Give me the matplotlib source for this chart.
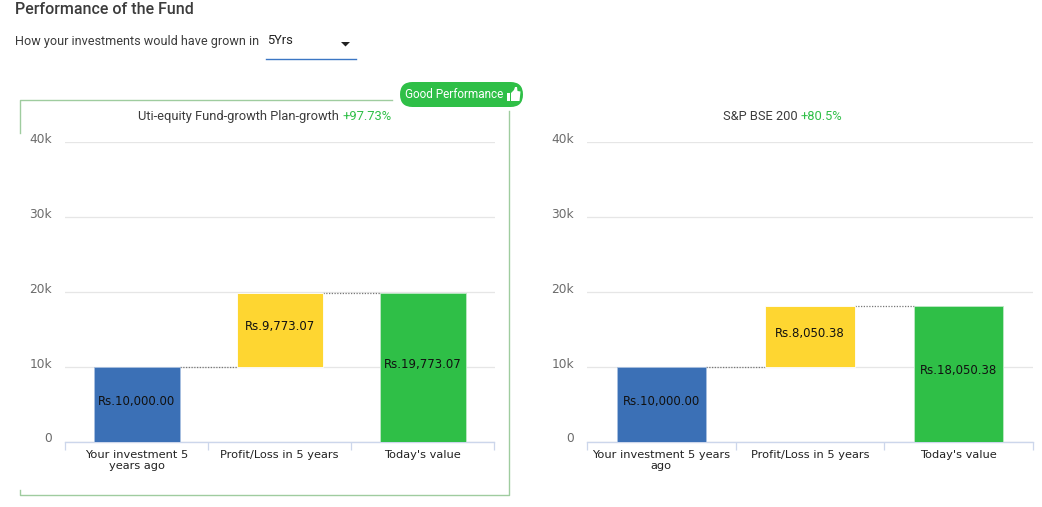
"""
Fund performance waterfall panels, fund vs benchmark
"""

import matplotlib
matplotlib.use('Agg')
import matplotlib.pyplot as plt
from matplotlib.patches import FancyBboxPatch, Polygon, Rectangle
from matplotlib.transforms import ScaledTranslation

W, H = 1042, 507

# Data
fund_categories = ['Your investment 5\nyears ago', 'Profit/Loss in 5 years', "Today's value"]
index_categories = ['Your investment 5 years\nago', 'Profit/Loss in 5 years', "Today's value"]
fund_invested = 10000.00
fund_profit = 9773.07
fund_today = 19773.07
index_invested = 10000.00
index_profit = 8050.38
index_today = 18050.38
y_ticks = [0, 10000, 20000, 30000, 40000]
y_labels = ['0', '10k', '20k', '30k', '40k']

# Colors
color_blue = '#3b70b6'
color_yellow = '#fed631'
color_green = '#2fbf47'
color_grid = '#e6e6e6'
color_axis = '#ccd6eb'
color_frame = '#9fcc9f'
color_dark = '#3c3c3c'

fig = plt.figure(figsize=(W / 100, H / 100), dpi=100, facecolor='white')


def px_axes(x0, x1, y_top, y_bottom):
    return fig.add_axes([x0 / W, 1 - y_bottom / H, (x1 - x0) / W, (y_bottom - y_top) / H])


def waterfall(ax, categories, invested, profit, today):
    ax.bar(0, invested, width=0.6, color=color_blue, edgecolor='#a9c0e0', linewidth=0.6, zorder=3)
    ax.bar(1, profit, bottom=invested, width=0.6, color=color_yellow, edgecolor='white', linewidth=0.6, zorder=3)
    ax.bar(2, today, width=0.6, color=color_green, edgecolor='#bfe8c6', linewidth=0.6, zorder=3)

    # dotted connectors
    top = invested + profit
    ax.plot([0.3, 0.7], [invested, invested], color='#777777', lw=0.9, ls=(0, (1, 1.2)), zorder=2)
    ax.plot([1.3, 1.7], [top, top], color='#777777', lw=0.9, ls=(0, (1, 1.2)), zorder=2)

    labels = [(0, invested / 2, invested), (1, invested + profit / 2, profit), (2, today / 2, today)]
    for x, y, v in labels:
        ax.annotate(f'Rs.{v:,.2f}', (x, y), xytext=(0, 2.2), textcoords='offset points',
                    ha='center', va='center', fontsize=8.45, color='#111111', zorder=4)

    ax.set_xlim(-0.5, 2.5)
    ax.set_ylim(0, 40000)
    ax.set_yticks(y_ticks)
    ax.set_yticklabels(y_labels, fontsize=8.8, color='#6b6b6b')
    ax.set_xticks([0, 1, 2])
    ax.set_xticklabels(categories, fontsize=8.2, color='#222222', linespacing=1.15, va='top')
    ax.set_xticks([-0.5, 0.5, 1.5, 2.5], minor=True)
    ax.tick_params(axis='x', which='major', length=0, pad=6)
    ax.tick_params(axis='x', which='minor', length=6, width=0.9, color=color_axis)
    ax.tick_params(axis='y', length=0, pad=9.2)
    ax.grid(axis='y', color=color_grid, linewidth=0.9, zorder=0)
    ax.set_axisbelow(True)
    for name in ['top', 'right', 'left']:
        ax.spines[name].set_visible(False)
    ax.spines['bottom'].set_color(color_axis)
    ax.spines['bottom'].set_linewidth(1.0)
    ax.patch.set_alpha(0)
    # y labels sit a little above the gridlines
    shift = ScaledTranslation(0, 4 / 100, fig.dpi_scale_trans)
    for lab in ax.get_yticklabels():
        lab.set_transform(lab.get_transform() + shift)


# ========== PAGE LAYER (pixel coordinates) ==========
page = fig.add_axes([0, 0, 1, 1])
page.set_xlim(0, W)
page.set_ylim(H, 0)
page.axis('off')

page.text(15, 9.5, 'Performance of the Fund', fontsize=11.5, family='Roboto', weight='medium',
          color=color_dark, va='center')
page.text(15, 41, 'How your investments would have grown in', fontsize=9.1, family='Roboto',
          color=color_dark, va='center')
page.text(267, 41, '5Yrs', fontsize=9.3, family='Roboto', color='#222222', va='center')
page.add_patch(Polygon([[341, 42], [350, 42], [345.5, 46.5]], closed=True, color='#222222', lw=0))
page.plot([266, 356], [58.5, 58.5], color='#3b76c4', lw=1.0)

# frame round the fund panel, broken by the badge
page.plot([20, 20, 392], [133, 100, 100], color=color_frame, lw=1.0)
page.plot([509, 509, 20, 20], [111, 495, 495, 490], color=color_frame, lw=1.0)

badge = FancyBboxPatch((400, 82), 123, 25, boxstyle='round,pad=0,rounding_size=12.5',
                       facecolor=color_green, edgecolor='none')
page.add_patch(badge)
page.text(405, 94.5, 'Good Performance', fontsize=8.5, family='Roboto', color='white', va='center')

# thumbs-up icon
page.add_patch(Rectangle((507, 93), 3, 8, color='white', lw=0))
page.add_patch(Polygon([[511, 93], [514, 90], [515, 87], [517, 87], [517.5, 91], [520.5, 91.5],
                        [519.5, 101], [511, 101]], closed=True, color='white', lw=0))

# panel titles
page.text(339, 116.5, 'Uti-equity Fund-growth Plan-growth', fontsize=9.25, family='Roboto',
          color=color_dark, ha='right', va='center')
page.text(342, 116.5, '+97.73%', fontsize=9.4, family='Roboto', color=color_green, va='center')
page.text(798, 116.5, 'S&P BSE 200', fontsize=9.25, family='Roboto',
          color=color_dark, ha='right', va='center')
page.text(801, 116.5, '+80.5%', fontsize=9.3, family='Roboto', color=color_green, va='center')

# ========== CHARTS ==========
ax_fund = px_axes(65, 494.5, 142, 441.5)
waterfall(ax_fund, fund_categories, fund_invested, fund_profit, fund_today)

ax_index = px_axes(587, 1033, 142, 441.5)
waterfall(ax_index, index_categories, index_invested, index_profit, index_today)

plt.savefig('out.png', dpi=100, facecolor='white')
plt.close()
